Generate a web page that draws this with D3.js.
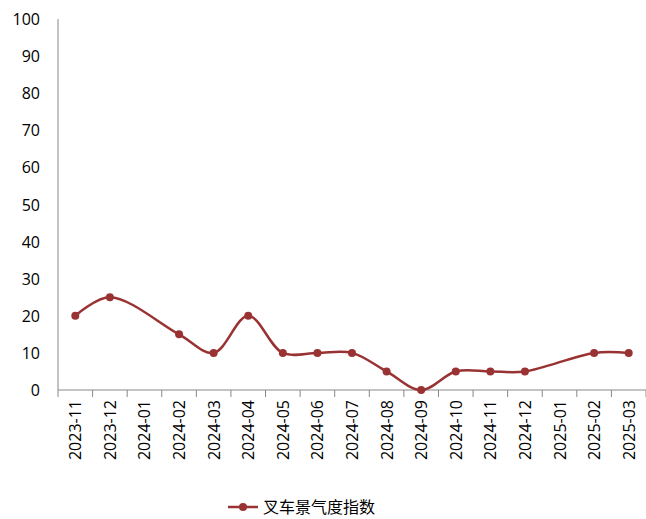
<!DOCTYPE html>
<html><head><meta charset="utf-8">
<script src="https://cdn.jsdelivr.net/npm/d3@7"></script>
<style>body{margin:0;background:#fff}text{font-family:"Open Sans","Noto Sans CJK SC",sans-serif}</style>
</head><body><svg id="c" width="646" height="519"></svg>
<script>
const categories=["2023-11","2023-12","2024-01","2024-02","2024-03","2024-04","2024-05","2024-06","2024-07","2024-08","2024-09","2024-10","2024-11","2024-12","2025-01","2025-02","2025-03"];
const values=[20,25,null,15,10,20,10,10,10,5,0,5,5,5,null,10,10];
const yTicks=[0,10,20,30,40,50,60,70,80,90,100];
const seriesName="叉车景气度指数";
const color="#993333";
const svg=d3.select("#c");
const x=d3.scaleBand().domain(categories).range([58,646]);
const y=d3.scaleLinear().domain([0,100]).range([390,19]);
svg.append("line").attr("x1",58).attr("x2",58).attr("y1",19).attr("y2",390).attr("stroke","#888");
svg.append("line").attr("x1",58).attr("x2",646).attr("y1",390).attr("y2",390).attr("stroke","#888");
svg.selectAll(".yt").data(yTicks).enter().append("text").attr("x",40).attr("y",d=>y(d)+6)
 .attr("text-anchor","end").attr("font-size",16).attr("fill","#000").text(d=>d);
const bounds=categories.map(c=>x(c)).concat([646]);
svg.selectAll(".xtk").data(bounds).enter().append("line").attr("x1",d=>d).attr("x2",d=>d)
 .attr("y1",390).attr("y2",397).attr("stroke","#888");
svg.selectAll(".xl").data(categories).enter().append("text")
 .attr("transform",d=>`translate(${x(d)+x.bandwidth()/2+6},400) rotate(-90)`)
 .attr("text-anchor","end").attr("font-size",16).text(d=>d);
const pts=categories.map((c,i)=>({c,v:values[i]})).filter(d=>d.v!=null);
const line=d3.line().x(d=>x(d.c)+x.bandwidth()/2).y(d=>y(d.v)).curve(d3.curveCatmullRom.alpha(0.5));
svg.append("path").datum(pts).attr("d",line).attr("fill","none").attr("stroke",color).attr("stroke-width",2.5);
svg.selectAll(".pt").data(pts).enter().append("circle").attr("cx",d=>x(d.c)+x.bandwidth()/2).attr("cy",d=>y(d.v)).attr("r",4).attr("fill",color);
svg.append("line").attr("x1",228).attr("x2",258).attr("y1",507).attr("y2",507).attr("stroke",color).attr("stroke-width",2.5);
svg.append("circle").attr("cx",243).attr("cy",507).attr("r",4).attr("fill",color);
svg.append("text").attr("x",263).attr("y",513).attr("font-size",16).text(seriesName);
</script></body></html>
